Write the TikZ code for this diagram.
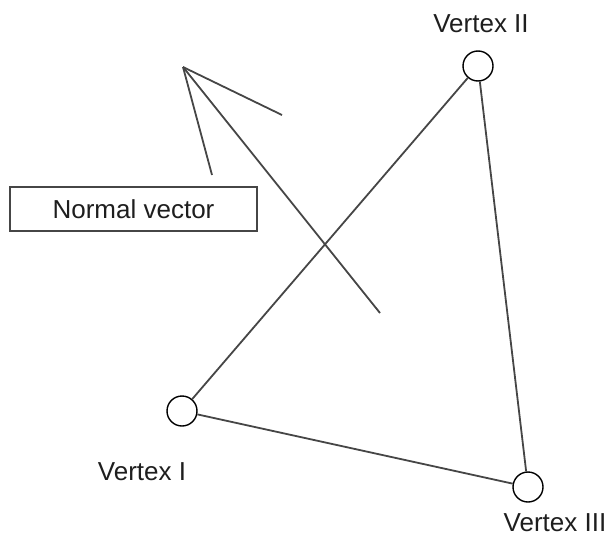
\documentclass[tikz,border=0pt]{standalone}
\usepackage{fontspec}
\setmainfont{Liberation Sans}
\usepackage{tikz}
\usetikzlibrary{positioning, calc}
\definecolor{EdgeGray}{RGB}{70, 70, 70}
\definecolor{LabelInk}{RGB}{30, 30, 30}

\begin{document}
\begin{tikzpicture}[x=1pt, y=-1pt,
    vertexdot/.style={draw=black, circle, minimum size=30pt, inner sep=0pt, line width=1.4pt},
    vertexlabel/.style={text=LabelInk, font=\fontsize{26}{30}\selectfont, inner sep=0pt},
    edge/.style={draw=EdgeGray, line width=1.8pt}]
      \useasboundingbox (0,0) rectangle (610,538);

      % Nodes
      \node[vertexdot] (v1) at (182,411) {};
      \node[vertexdot] (v2) at (478,66) {};
      \node[vertexdot] (v3) at (528,487) {};

      \node[vertexlabel] (l1) at (142,472) {Vertex I};
      \node[vertexlabel] (l2) at (481,24) {Vertex II};
      \node[vertexlabel] (l3) at (555,523) {Vertex III};

      \node[draw=EdgeGray, line width=1.4pt, minimum width=247pt, minimum height=44pt, inner sep=0pt,
            font=\fontsize{26}{30}\selectfont, text=LabelInk] (normal) at (133.5,209) {Normal vector};

      \coordinate (tip) at (183,67);
      \coordinate (tail) at (380,313);
      \coordinate (wingA) at (282,115);
      \coordinate (wingB) at (212,175);

      % Edges
      \draw[edge] (v1) -- (v2);
      \draw[edge] (v2) -- (v3);
      \draw[edge] (v3) -- (v1);

      % Normal vector
      \draw[edge] (tail) -- (tip);
      \draw[edge] (tip) -- (wingA);
      \draw[edge] (tip) -- (wingB);
    \end{tikzpicture}
\end{document}
